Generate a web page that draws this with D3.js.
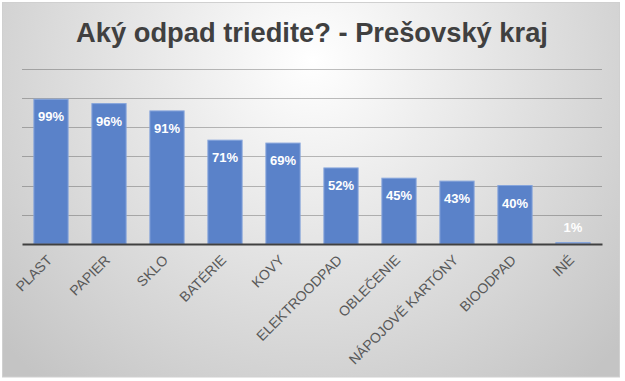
<!DOCTYPE html>
<html><head><meta charset="utf-8">
<script src="https://cdn.jsdelivr.net/npm/d3@7"></script>
<style>body{margin:0;background:#fff}svg{display:block}</style>
</head><body>
<script>
const title = "Aký odpad triedite? - Prešovský kraj";
const categories = ["PLAST","PAPIER","SKLO","BATÉRIE","KOVY","ELEKTROODPAD","OBLEČENIE","NÁPOJOVÉ KARTÓNY","BIOODPAD","INÉ"];
const values = [99,96,91,71,69,52,45,43,40,1];
const yTicks = [0,20,40,60,80,100,120];

const W=625,H=381;
const svg=d3.select("body").append("svg").attr("width",W).attr("height",H);
const defs=svg.append("defs");
const g=defs.append("radialGradient").attr("id","bg").attr("gradientUnits","userSpaceOnUse")
  .attr("cx",312).attr("cy",60).attr("r",420);
g.append("stop").attr("offset",0).attr("stop-color","#ffffff");
g.append("stop").attr("offset",1).attr("stop-color","#c4c4c4");
svg.append("rect").attr("x",2.5).attr("y",2.5).attr("width",617).attr("height",374.5)
  .attr("fill","url(#bg)").attr("stroke","#d0d0d0").attr("stroke-width",1);

const x=d3.scaleBand().domain(categories).range([22,602]).paddingInner(0.41).paddingOuter(0.205);
const y=d3.scaleLinear().domain([0,120]).range([244,68.5]);

svg.append("g").selectAll("line").data(yTicks.slice(1)).join("line")
  .attr("x1",22).attr("x2",602).attr("y1",d=>Math.round(y(d))+0.5).attr("y2",d=>Math.round(y(d))+0.5)
  .attr("stroke","rgba(0,0,0,0.25)").attr("stroke-width",1);

svg.append("g").selectAll("rect").data(values).join("rect")
  .attr("x",(d,i)=>x(categories[i])).attr("width",x.bandwidth())
  .attr("y",d=>y(d)).attr("height",d=>y(0)-y(d))
  .attr("fill",d=>d<5?"#a9bfe6":"#5a82c9").attr("stroke","#86a5dc").attr("stroke-width",1);

svg.append("g").selectAll("text").data(values).join("text")
  .attr("x",(d,i)=>x(categories[i])+x.bandwidth()/2)
  .attr("y",d=>(y(0)-y(d)>30)? y(d)+22 : y(d)-11)
  .attr("text-anchor","middle").attr("fill","#fff")
  .attr("font-family","Liberation Sans, Arial, sans-serif").attr("font-weight","bold").attr("font-size",13)
  .text(d=>d+"%");

const xAxis=d3.axisBottom(x).tickSize(0).tickPadding(0);
const ax=svg.append("g").attr("transform","translate(0,244)").call(xAxis);
ax.select(".domain").attr("stroke","#404040").attr("stroke-width",2);
ax.selectAll("text").attr("font-family","Liberation Sans, Arial, sans-serif").attr("font-size",14)
  .attr("fill","#595959").attr("text-anchor","end").attr("dy",null).attr("y",null)
  .attr("transform","translate(2,17) rotate(-45)");

const t=svg.append("text").attr("x",312).attr("y",41.5).attr("text-anchor","middle")
  .attr("font-family","Liberation Sans, Arial, sans-serif").attr("font-weight","bold")
  .attr("font-size",26).attr("fill","#404040").text(title);
const tw=t.node().getComputedTextLength();
t.attr("font-size",26*472/tw);
</script>
</body></html>
